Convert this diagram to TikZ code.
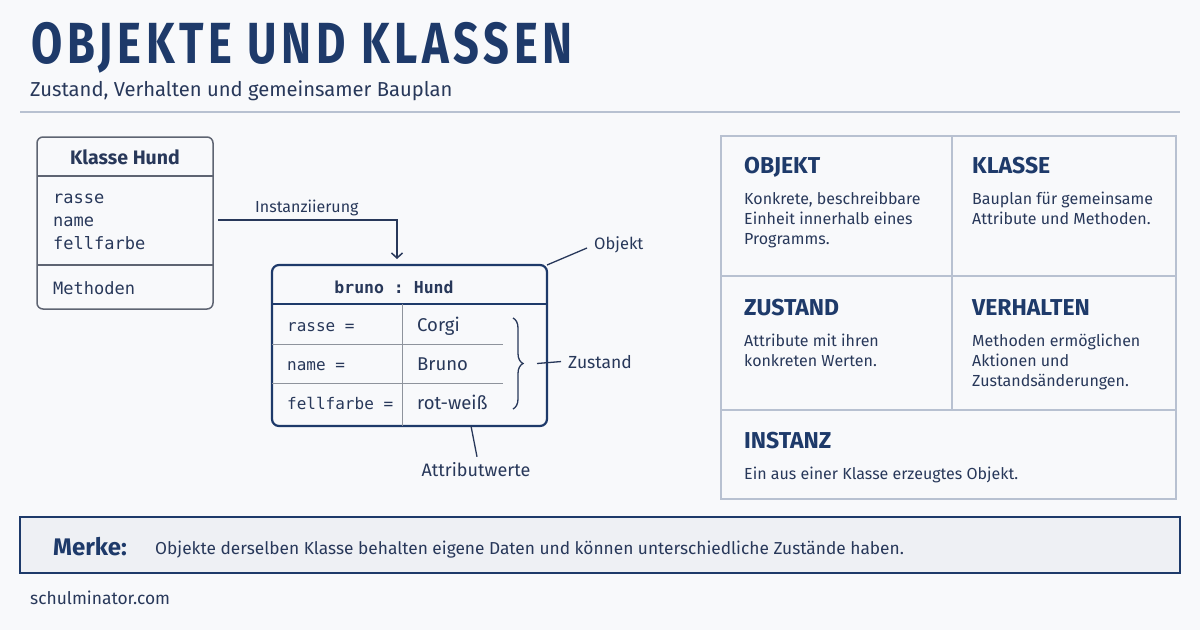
\documentclass[tikz,border=0pt]{standalone}
\usepackage{fontspec}
\setmainfont{Fira Sans}
\setmonofont{DejaVu Sans Mono}
\newfontfamily\titlefont[FakeStretch=0.78,LetterSpace=8]{Fira Sans}
\usepackage{tikz}
\usetikzlibrary{arrows.meta,decorations.pathreplacing}
\usetikzlibrary{positioning}

\definecolor{navy}{HTML}{1E3A6A}
\definecolor{ink}{HTML}{28385A}
\definecolor{grau}{HTML}{5E6472}
\definecolor{rahmen}{HTML}{B8C1D1}
\definecolor{hell}{HTML}{F8F9FB}
\definecolor{merkbg}{HTML}{EEF0F4}

\newcommand\zeilen[1]{\begin{tabular}[t]{@{}l@{}}#1\end{tabular}}

\tikzset{
  txt/.style={anchor=base west,inner sep=0pt,text=ink,font=\fontsize{16}{20}\selectfont},
  code/.style={anchor=base west,inner sep=0pt,text=ink,font=\ttfamily\fontsize{16.5}{20}\selectfont},
  kopf/.style={anchor=base west,inner sep=0pt,text=navy,font=\bfseries\fontsize{23}{26}\selectfont},
  box/.style={draw,inner sep=0pt,outer sep=0pt},
  pfeil/.style={-{Straight Barb[length=5pt,width=11pt]},ink,line width=1.5pt}
}

\begin{document}
\begin{tikzpicture}[x=1pt,y=-1pt]
\useasboundingbox[fill=hell] (0,0) rectangle (1200,630);
% Titel
\node[anchor=base west,inner sep=0pt,text=navy,font=\titlefont\bfseries\fontsize{58}{60}\selectfont] (titel) at (31,63) {OBJEKTE UND KLASSEN};
\node[anchor=base west,inner sep=0pt,text=ink,font=\fontsize{20.2}{24}\selectfont] (untertitel) at (30,96) {Zustand, Verhalten und gemeinsamer Bauplan};
\draw[rahmen,line width=2pt] (20,112) -- (1180,112);

% Klasse
\node[box,draw=grau,line width=1.5pt,rounded corners=6pt,minimum width=176pt,minimum height=172pt] (klasse) at (125,223) {};
\node[anchor=base,inner sep=0pt,text=ink,font=\bfseries\fontsize{19.5}{22}\selectfont] (khead) at (klasse.north |- 0,164) {Klasse Hund};
\draw[grau,line width=1.2pt] (klasse.west |- 0,176) -- (klasse.east |- 0,176)
  (klasse.west |- 0,265) -- (klasse.east |- 0,265);
\foreach \a [count=\i] in {rasse,name,fellfarbe}
  \node[code,font=\ttfamily\fontsize{17}{20}\selectfont] (k\i) at (53,180+23*\i) {\a};
\node[code,font=\ttfamily\fontsize{17}{20}\selectfont] (kmeth) at (53,294) {Methoden};

% Objekt
\node[box,draw=navy,line width=2.2pt,rounded corners=7pt,minimum width=275pt,minimum height=161pt] (bruno) at (409.5,345.5) {};
\node[anchor=base,inner sep=0pt,text=ink,font=\ttfamily\bfseries\fontsize{16.5}{20}\selectfont] (ohead) at (394,293) {bruno : Hund};
\draw[navy,line width=1.8pt] (bruno.west |- 0,304) -- (bruno.east |- 0,304);
\draw[grau!70,line width=1pt] (bruno.west |- 0,344) -- (503,344)
  (bruno.west |- 0,383) -- (503,383)
  (402,304) -- (bruno.south -| 402,0);
\foreach \attr/\wert [count=\i] in {rasse/Corgi,name/Bruno,fellfarbe/rot-weiß}
  \node[code,font=\ttfamily\fontsize{16}{20}\selectfont] (attr\i) at (287,292+39*\i) {\attr\ =}
    node[txt,font=\fontsize{18.5}{20}\selectfont] (wert\i) at (417,292+39*\i) {\wert};

% Instanziierung
\node[txt] (inst) at (255,212) {Instanziierung};
\draw[pfeil] ([xshift=5pt]klasse.east |- 0,220) -| ([xshift=-12.5pt,yshift=6pt]bruno.north);

% Beschriftungen
\node[txt,font=\fontsize{16.5}{20}\selectfont] (objlab) at (594,249) {Objekt};
\draw[ink,line width=1.3pt] (bruno.north east) -- ([xshift=-7pt,yshift=1pt]objlab.base west);
\draw[decorate,decoration={brace,amplitude=10pt},ink,line width=1.3pt] (513,318) -- (513,409) coordinate[midway] (klammer);
\node[txt,font=\fontsize{17.5}{20}\selectfont] (zustand) at (568,368) {Zustand};
\draw[ink,line width=1.3pt] ([xshift=24pt]klammer) -- ([xshift=-7pt]zustand.west);
\node[txt,anchor=base,font=\fontsize{18}{20}\selectfont] (attrlab) at (476,476) {Attributwerte};
\draw[ink,line width=1.3pt] (bruno.south -| 471,0) -- ([xshift=1pt,yshift=5pt]attrlab.north);

% Begriffe
\node[box,draw=rahmen,line width=1.5pt,minimum width=455pt,minimum height=363pt] (raster) at (948.5,317.5) {};
\draw[rahmen,line width=1.5pt] (raster.north -| 952,0) -- (952,410)
  (raster.west |- 0,276) -- (raster.east |- 0,276)
  (raster.west |- 0,410) -- (raster.east |- 0,410);
\foreach \x/\y/\kopf/\text [count=\i] in {
  744/173/OBJEKT/{Konkrete, beschreibbare\\Einheit innerhalb eines\\Programms.},
  972/173/KLASSE/{Bauplan für gemeinsame\\Attribute und Methoden.},
  744/315/ZUSTAND/{Attribute mit ihren\\konkreten Werten.},
  972/315/VERHALTEN/{Methoden ermöglichen\\Aktionen und\\Zustandsänderungen.},
  744/448/INSTANZ/{Ein aus einer Klasse erzeugtes Objekt.}
}
\node[kopf] (kopf\i) at (\x,\y) {\kopf}
  node[txt] (text\i) at (\x,\y+31) {\zeilen{\text}};

% Merke
\node[box,draw=navy,fill=merkbg,line width=1.5pt,minimum width=1160pt,minimum height=56pt] (merke) at (600,545) {};
\node[anchor=base west,inner sep=0pt,text=navy,font=\bfseries\fontsize{24}{26}\selectfont] (merklab) at (53,555) {Merke:};
\node[txt,font=\fontsize{17.3}{20}\selectfont] (merktext) at (155,554) {Objekte derselben Klasse behalten eigene Daten und können unterschiedliche Zustände haben.};
\node[txt,font=\fontsize{17.4}{20}\selectfont] (quelle) at (30,604) {schulminator.com};
\end{tikzpicture}
\end{document}
